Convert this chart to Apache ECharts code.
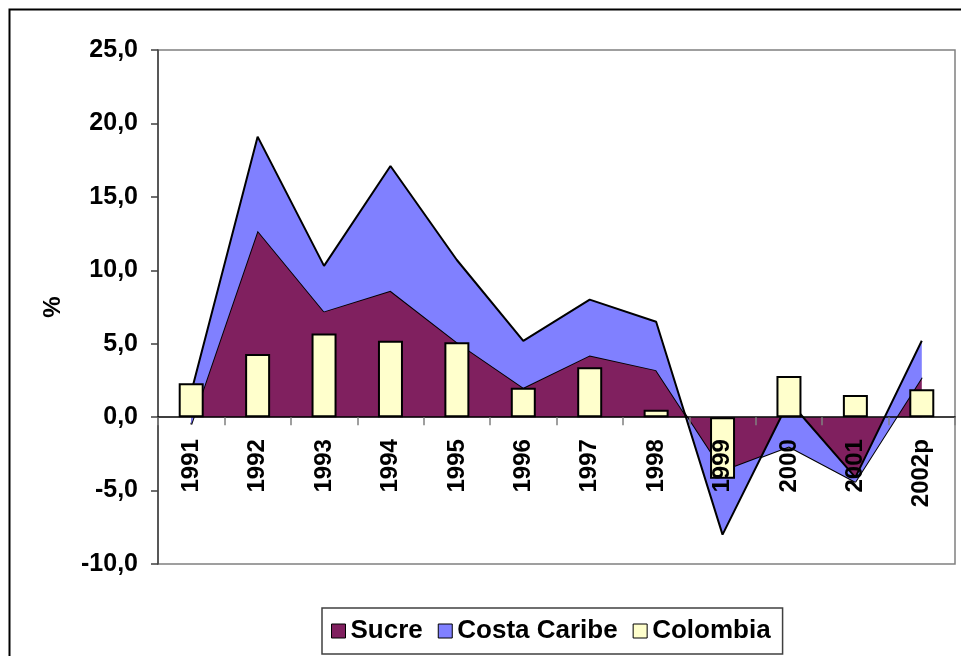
<!DOCTYPE html>
<html>
<head>
<meta charset="utf-8">
<script src="https://cdn.jsdelivr.net/npm/echarts@6/dist/echarts.min.js"></script>
<style>
    html, body { margin: 0; padding: 0; background: #fff; }
    #chart_area { width: 961px; height: 656px; }
</style>
</head>
<body>
<div id="chart_area"></div>
<script>
// categories and values (% growth)
var years = ['1991', '1992', '1993', '1994', '1995', '1996', '1997', '1998', '1999', '2000', '2001', '2002p'];
// stacked area: Costa Caribe sits on top of Sucre
var sucre = [-0.5, 12.7, 7.2, 8.6, 5.1, 2.0, 4.2, 3.2, -3.7, -2.0, -4.4, 2.7];
var costaCaribe = [2.2, 6.4, 3.1, 8.5, 5.6, 3.2, 3.8, 3.3, -4.3, 3.1, 0.3, 2.5];
var colombia = [2.3, 4.3, 5.7, 5.2, 5.1, 2.0, 3.4, 0.5, -4.2, 2.8, 1.5, 1.9];
var yTicks = {min: -10, max: 25, step: 5};

var fontFam = "'Liberation Sans', Arial, sans-serif";
var chartArea = echarts.init(document.getElementById('chart_area'), null, {renderer: 'canvas'});

// plot box, px
var gridTop = 50, gridBottom = 92, chartH = 656;
var plotH = chartH - gridTop - gridBottom;
// move the category axis up to the 0 line
var zeroOffset = -plotH * (0 - yTicks.min) / (yTicks.max - yTicks.min);

var areaChartOptions = {
    backgroundColor: '#ffffff',
    animation: false,
    textStyle: {fontFamily: fontFam},
    graphic: [{
        type: 'rect',
        shape: {x: 9.5, y: 9.5, width: 1000, height: 700},
        style: {fill: 'none', stroke: '#000', lineWidth: 2}
    }],
    grid: {
        left: 158,
        right: 6,
        top: gridTop,
        bottom: gridBottom,
        show: true,
        borderColor: '#808080',
        borderWidth: 1.5,
        backgroundColor: '#fff',
        outerBoundsMode: 'none'
    },
    legend: {
        left: 322,
        top: 608,
        orient: 'horizontal',
        icon: 'rect',
        itemWidth: 14,
        itemHeight: 14,
        itemGap: 15,
        padding: [10, 12, 10, 9],
        borderColor: '#404040',
        borderWidth: 1.5,
        textStyle: {
            fontFamily: fontFam,
            fontWeight: 'bold',
            fontSize: 26,
            color: '#000'
        },
        data: [
            {name: 'Sucre', itemStyle: {color: '#80205F', borderColor: '#000', borderWidth: 1}},
            {name: 'Costa Caribe', itemStyle: {color: '#8080FF', borderColor: '#000', borderWidth: 1}},
            {name: 'Colombia', itemStyle: {color: '#FFFFCC', borderColor: '#000', borderWidth: 1}}
        ]
    },
    xAxis: [{
        type: 'category',
        data: years,
        boundaryGap: true,
        z: 10,
        offset: zeroOffset,
        axisLine: {onZero: false, lineStyle: {color: '#000', width: 1.5}},
        axisTick: {show: true, length: 8, lineStyle: {color: '#808080', width: 1.5}},
        axisLabel: {
            rotate: 90,
            margin: 22,
            interval: 0,
            fontFamily: fontFam,
            fontWeight: 'bold',
            fontSize: 24,
            color: '#000'
        },
        splitLine: {show: false}
    }],
    yAxis: [{
        type: 'value',
        min: yTicks.min,
        max: yTicks.max,
        interval: yTicks.step,
        name: '%',
        nameLocation: 'middle',
        nameRotate: 90,
        nameGap: 93,
        nameTextStyle: {fontFamily: fontFam, fontWeight: 'bold', fontSize: 24, color: '#000'},
        axisLine: {show: true, lineStyle: {color: '#404040', width: 1.5}},
        axisTick: {show: true, length: 7, lineStyle: {color: '#404040', width: 1.5}},
        axisLabel: {
            margin: 20,
            fontFamily: fontFam,
            fontWeight: 'bold',
            fontSize: 25,
            color: '#000',
            formatter: function (v) {
                return v.toFixed(1).replace('.', ',');
            }
        },
        splitLine: {show: false}
    }],
    series: [{
        name: 'Sucre',
        type: 'line',
        stack: 'region',
        stackStrategy: 'all',
        symbol: 'none',
        z: 2,
        color: '#80205F',
        itemStyle: {color: '#80205F'},
        lineStyle: {color: '#000', width: 2},
        areaStyle: {color: '#80205F', opacity: 1},
        data: sucre
    }, {
        name: 'Costa Caribe',
        type: 'line',
        stack: 'region',
        stackStrategy: 'all',
        symbol: 'none',
        z: 3,
        color: '#8080FF',
        itemStyle: {color: '#8080FF'},
        lineStyle: {color: '#000', width: 2},
        areaStyle: {color: '#8080FF', opacity: 1},
        data: costaCaribe
    }, {
        name: 'Colombia',
        type: 'bar',
        barWidth: 25,
        z: 6,
        itemStyle: {color: '#FFFFCC', borderColor: '#000', borderWidth: 2},
        data: colombia
    }]
};

chartArea.setOption(areaChartOptions);
</script>
</body>
</html>
